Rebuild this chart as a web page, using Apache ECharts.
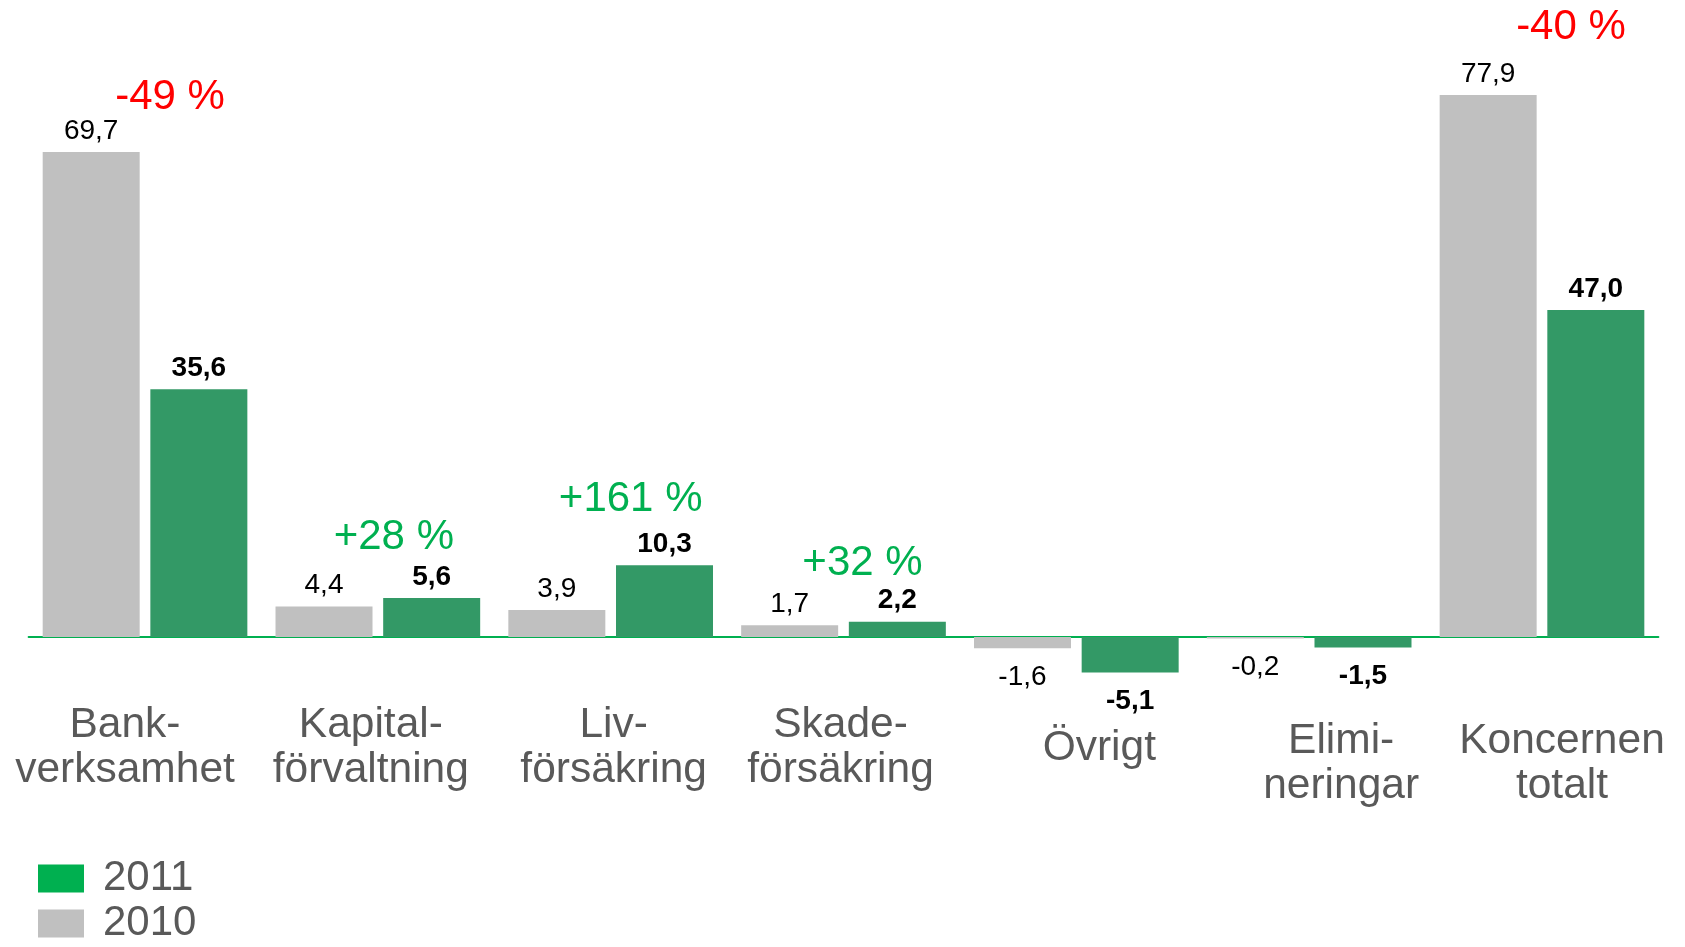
<!DOCTYPE html>
<html>
<head>
<meta charset="utf-8">
<script src="https://cdn.jsdelivr.net/npm/echarts@6/dist/echarts.min.js"></script>
<style>
html,body{margin:0;padding:0;background:#fff;}
#c{width:1685px;height:947px;}
</style>
</head>
<body>
<div id="c"></div>
<script>
// ---- data ----
const categories = ['Bank-\nverksamhet', 'Kapital-\nförvaltning', 'Liv-\nförsäkring', 'Skade-\nförsäkring', 'Övrigt', 'Elimi-\nneringar', 'Koncernen\ntotalt'];
const values2010 = [69.7, 4.4, 3.9, 1.7, -1.6, -0.2, 77.9];
const values2011 = [35.6, 5.6, 10.3, 2.2, -5.1, -1.5, 47.0];
const changeLabels = ['-49 %', '+28 %', '+161 %', '+32 %', '', '', '-40 %'];
const seriesNames = ['2010', '2011'];

// ---- layout / style (pixels) ----
const FONT = "'Liberation Sans', Arial, Helvetica, sans-serif";
const GREY = '#C0C0C0', GREEN = '#339966', LEG_GREEN = '#00B050', RED = '#FF0000', TXT = '#595959';
const catLabelLayout = [
  {dx: -20, base: 740}, {dx: -7, base: 740}, {dx: 3, base: 740}, {dx: -3, base: 740},
  {dx: 23, base: 763}, {dx: 32, base: 756}, {dx: 20, base: 756}
];
const changeLayout = [
  {dx: 25, up: 40}, {dx: 16, up: 46}, {dx: 20, up: 51}, {dx: 19, up: 44},
  null, null, {dx: 29, up: 53}
];
const CAT_FS = 42.5, CAT_LH = 45, CHG_FS = 42, VAL_FS = 28;

const fmt = v => v.toFixed(1).replace('.', ',');

const chart = echarts.init(document.getElementById('c'), null, {renderer: 'canvas'});

function valLabel(bold) {
  return {
    show: true,
    fontSize: VAL_FS,
    fontFamily: FONT,
    fontWeight: bold ? 'bold' : 'normal',
    color: '#000',
    formatter: p => fmt(p.value)
  };
}

function seriesData(vals, bold) {
  return vals.map(v => ({
    value: v,
    label: Object.assign(valLabel(bold), {position: v < 0 ? 'bottom' : 'top', distance: v < 0 ? 15 : 7})
  }));
}

chart.setOption({
  animation: false,
  backgroundColor: '#fff',
  grid: {left: 28.6, right: 26.6, top: 80.4, bottom: 240.4, containLabel: false},
  xAxis: {
    type: 'category',
    data: categories,
    axisLine: {show: true, onZero: true, lineStyle: {color: LEG_GREEN, width: 2}},
    axisTick: {show: false},
    axisLabel: {show: false},
    splitLine: {show: false}
  },
  yAxis: {
    type: 'value', min: -10, max: 80, interval: 10,
    show: false, splitLine: {show: false}
  },
  legend: {
    orient: 'vertical',
    left: 38, top: 856,
    padding: 0,
    itemWidth: 46, itemHeight: 28, itemGap: 0,
    icon: 'rect',
    data: [
      {name: seriesNames[1], itemStyle: {color: LEG_GREEN}},
      {name: seriesNames[0], itemStyle: {color: GREY}}
    ],
    textStyle: {fontSize: 42, fontFamily: FONT, color: TXT, lineHeight: 45, padding: [0, 0, 0, 14]}
  },
  series: [
    {
      name: seriesNames[0], type: 'bar', data: seriesData(values2010, false),
      barWidth: 97, barGap: '11%', itemStyle: {color: GREY}
    },
    {
      name: seriesNames[1], type: 'bar', data: seriesData(values2011, true),
      barWidth: 97, itemStyle: {color: GREEN}
    }
  ]
});

// ---- text annotations placed through the axes ----
const graphics = [];
const MID = 0.3465; // baseline offset from text middle (em)
categories.forEach((cat, i) => {
  const cx = chart.convertToPixel({xAxisIndex: 0}, i);
  const L = catLabelLayout[i];
  cat.split('\n').forEach((line, k) => {
    const base = L.base + k * CAT_LH;
    graphics.push({
      type: 'text', x: cx + L.dx, y: base - MID * CAT_FS,
      style: {text: line, font: CAT_FS + 'px ' + FONT, fill: TXT, align: 'center', verticalAlign: 'middle'}
    });
  });
  if (changeLabels[i]) {
    const C = changeLayout[i];
    const top = Math.max(values2010[i], values2011[i]);
    const topPx = chart.convertToPixel({yAxisIndex: 0}, top);
    const base = topPx - C.up;
    graphics.push({
      type: 'text', x: cx + C.dx, y: base - MID * CHG_FS,
      style: {
        text: changeLabels[i], font: CHG_FS + 'px ' + FONT,
        fill: changeLabels[i].charAt(0) === '-' ? RED : LEG_GREEN,
        align: 'center', verticalAlign: 'middle'
      }
    });
  }
});
chart.setOption({graphic: {elements: graphics}});
</script>
</body>
</html>
